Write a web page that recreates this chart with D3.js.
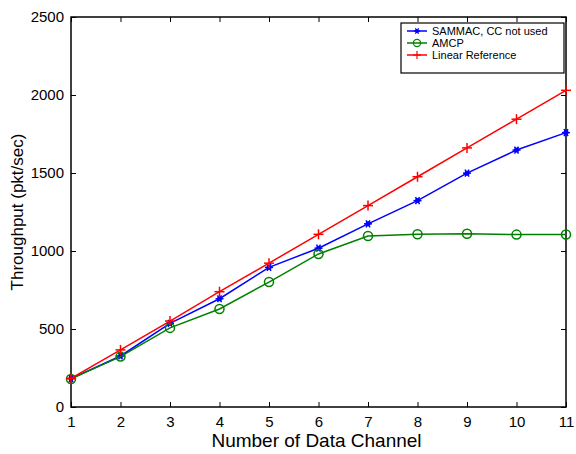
<!DOCTYPE html>
<html lang="en">
<head>
<meta charset="utf-8">
<title>Throughput vs data channels</title>
<script src="https://cdn.jsdelivr.net/npm/d3@7"></script>
<style>
  body { margin: 0; background: #fff; }
  text { font-family: "Liberation Sans", Arial, Helvetica, sans-serif; fill: #000; }
  .line { fill: none; stroke-width: 1.5px; }
</style>
</head>
<body>
<script>
// data
var channels = [1, 2, 3, 4, 5, 6, 7, 8, 9, 10, 11];
var sammac   = [182, 327, 536, 694, 895, 1018, 1174, 1323, 1499, 1647, 1759];
var amcp     = [180, 323, 507, 628, 801, 981, 1096, 1107, 1111, 1105, 1106];
var linear   = [183, 366, 551, 739, 922, 1107, 1291, 1476, 1661, 1845, 2030];
var seriesNames  = ["SAMMAC, CC not used", "AMCP", "Linear Reference"];
var seriesColors = ["#0000ff", "#008000", "#ff0000"];
var yTicks = [0, 500, 1000, 1500, 2000, 2500];

var W = 576, H = 454;
var margin = {top: 17, right: 10, bottom: 47, left: 71};
var width = W - margin.left - margin.right,
    height = H - margin.top - margin.bottom;

var svg = d3.select("body").append("svg")
    .attr("width", W).attr("height", H);
var g = svg.append("g")
    .attr("transform", "translate(" + margin.left + "," + margin.top + ")");

var x = d3.scaleLinear().domain([1, 11]).range([0, width]);
var y = d3.scaleLinear().domain([0, 2500]).range([height, 0]);

// frame
g.append("rect").attr("width", width).attr("height", height)
    .attr("fill", "none").attr("stroke", "#000").attr("stroke-width", 1.5);

// axes, ticks point inward like matlab
var tl = 5;
g.append("g").attr("transform", "translate(0," + height + ")")
    .call(d3.axisBottom(x).tickValues(channels).tickFormat(d3.format("d")).tickSizeInner(-tl).tickSizeOuter(0).tickPadding(9));
g.append("g")
    .call(d3.axisTop(x).tickValues(channels).tickFormat("").tickSizeInner(-tl).tickSizeOuter(0));
g.append("g")
    .call(d3.axisLeft(y).tickValues(yTicks).tickFormat(d3.format("d")).tickSizeInner(-tl).tickSizeOuter(0).tickPadding(7));
g.append("g").attr("transform", "translate(" + width + ",0)")
    .call(d3.axisRight(y).tickValues(yTicks).tickFormat("").tickSizeInner(-tl).tickSizeOuter(0));

g.selectAll(".domain").remove();
g.selectAll(".tick line").attr("stroke", "#000");
g.selectAll(".tick text").style("font-size", "15px")
    .style("font-family", "'Liberation Sans', Arial, sans-serif");

// axis labels
svg.append("text").attr("x", margin.left + width / 2 - 2).attr("y", 447)
    .attr("text-anchor", "middle").style("font-size", "19px")
    .text("Number of Data Channel");
svg.append("text")
    .attr("transform", "translate(23," + (margin.top + height / 2) + ") rotate(-90)")
    .attr("text-anchor", "middle").style("font-size", "17px")
    .text("Throughput (pkt/sec)");

// markers
function marker(sel, kind, color) {
    if (kind === 0) { // asterisk
        [0, 60, 120].forEach(function(a) {
            sel.append("line").attr("x1", -4).attr("x2", 4)
                .attr("transform", "rotate(" + a + ")")
                .attr("stroke", color).attr("stroke-width", 1.5);
        });
        sel.append("circle").attr("r", 2.5).attr("fill", color);
    } else if (kind === 1) {
        sel.append("circle").attr("r", 4.5).attr("fill", "none")
            .attr("stroke", color).attr("stroke-width", 1.5);
    } else {
        sel.append("line").attr("x1", -5).attr("x2", 5).attr("stroke", color).attr("stroke-width", 1.5);
        sel.append("line").attr("y1", -5).attr("y2", 5).attr("stroke", color).attr("stroke-width", 1.5);
    }
}

var series = [sammac, amcp, linear];
var line = d3.line().x(function(d, i) { return x(channels[i]); }).y(function(d) { return y(d); });

series.forEach(function(vals, k) {
    g.append("path").datum(vals).attr("class", "line")
        .attr("stroke", seriesColors[k]).attr("d", line);
    g.selectAll(".m" + k).data(vals).enter().append("g")
        .attr("class", "m" + k)
        .attr("transform", function(d, i) { return "translate(" + x(channels[i]) + "," + y(d) + ")"; })
        .each(function() { marker(d3.select(this), k, seriesColors[k]); });
});

// legend
var lg = svg.append("g").attr("transform", "translate(401,23)");
lg.append("rect").attr("width", 163).attr("height", 50)
    .attr("fill", "#fff").attr("stroke", "#000").attr("stroke-width", 1.2);
seriesNames.forEach(function(name, k) {
    var yy = 8 + k * 12;
    lg.append("line").attr("x1", 6).attr("x2", 26).attr("y1", yy).attr("y2", yy)
        .attr("stroke", seriesColors[k]).attr("stroke-width", 1.5);
    var m = lg.append("g").attr("transform", "translate(16," + yy + ") scale(0.8)");
    marker(m, k, seriesColors[k]);
    lg.append("text").attr("x", 31).attr("y", yy + 4)
        .style("font-size", "11px").text(name);
});
</script>
</body>
</html>
